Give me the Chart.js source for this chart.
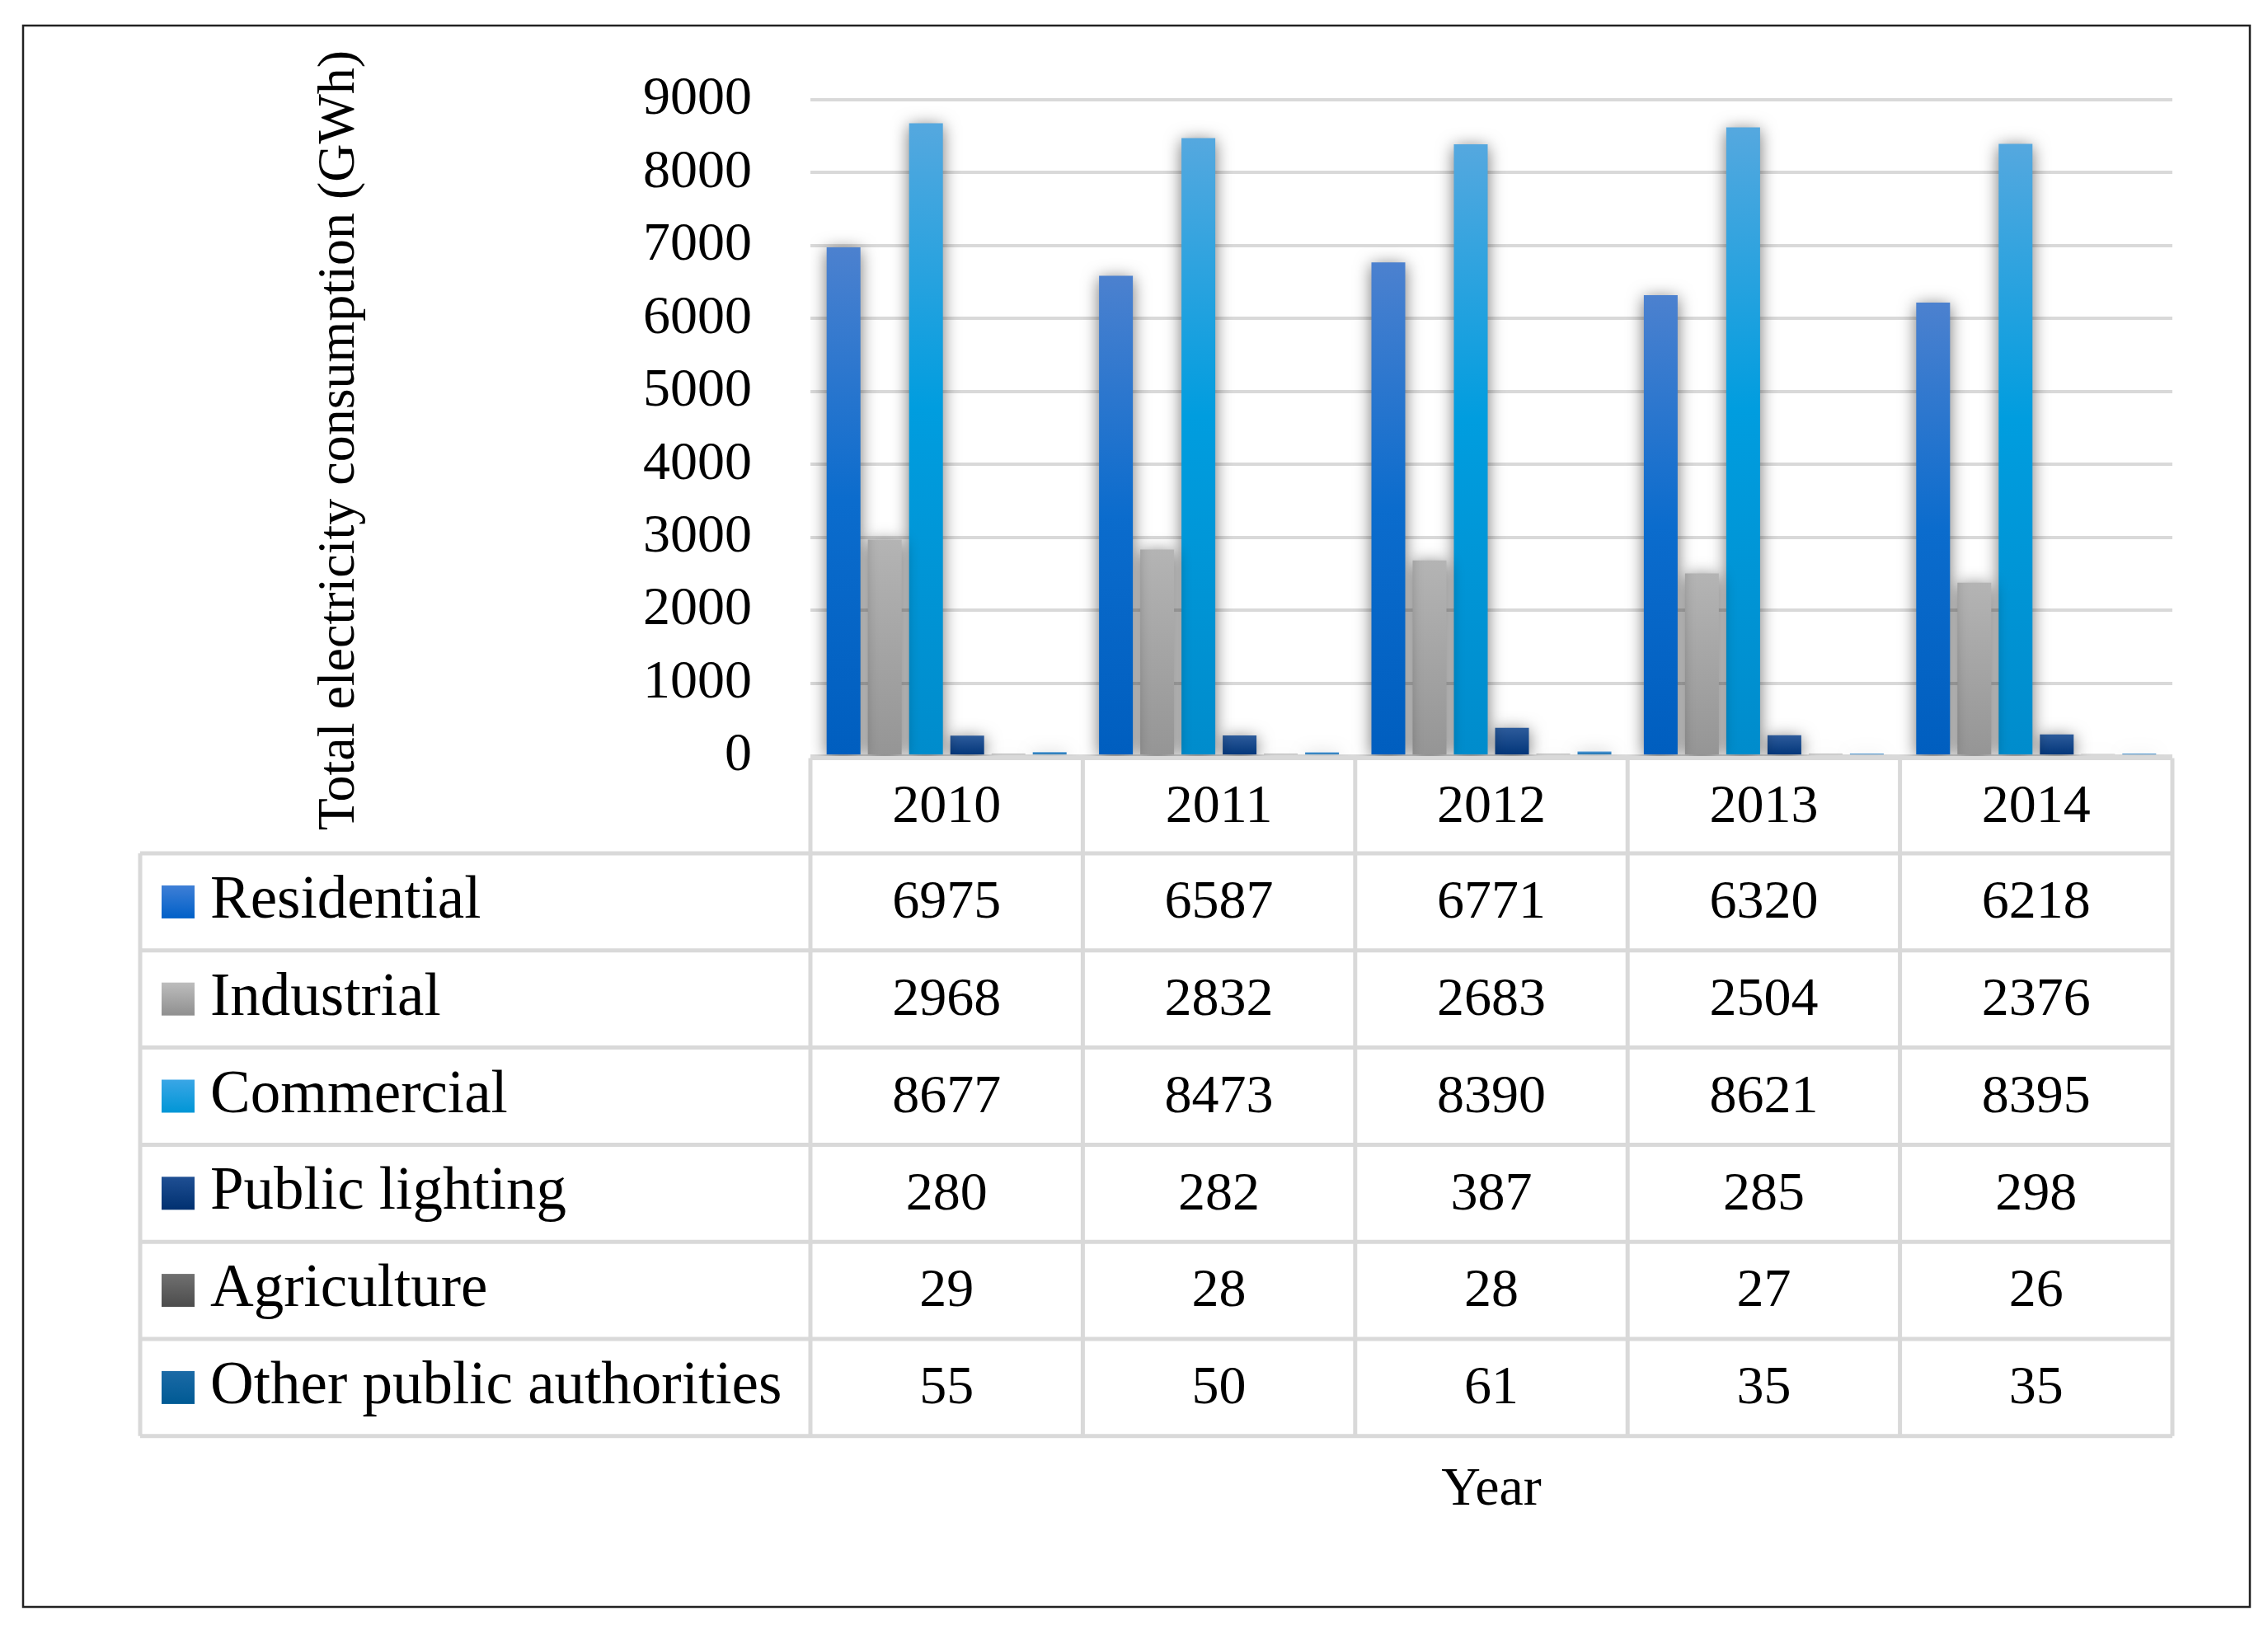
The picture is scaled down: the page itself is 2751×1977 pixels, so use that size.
<!DOCTYPE html>
<html>
<head>
<meta charset="utf-8">
<title>Total electricity consumption</title>
<script src="https://cdn.jsdelivr.net/npm/chart.js@4.4.1/dist/chart.umd.min.js"></script>
<style>
  html, body { margin: 0; padding: 0; background: #fff; overflow: hidden; }
  #wrap { position: relative; width: 2751px; height: 1977px; }
</style>
</head>
<body>
<div id="wrap"><canvas id="chart"></canvas></div>
<script>
/* ================= DATA ================= */
const years = ["2010", "2011", "2012", "2013", "2014"];
const seriesNames = ["Residential", "Industrial", "Commercial", "Public lighting", "Agriculture", "Other public authorities"];
const residential = [6975, 6587, 6771, 6320, 6218];
const industrial = [2968, 2832, 2683, 2504, 2376];
const commercial = [8677, 8473, 8390, 8621, 8395];
const publicLighting = [280, 282, 387, 285, 298];
const agriculture = [29, 28, 28, 27, 26];
const otherAuthorities = [55, 50, 61, 35, 35];
const yTicks = [0, 1000, 2000, 3000, 4000, 5000, 6000, 7000, 8000, 9000];

/* ================= STYLE ================= */
const FONT = "'Liberation Serif', 'Times New Roman', serif";
const LINE = "#d9d9d9";

// gradient stops, top of bar -> bottom of bar
const fills = [
  [[0, "#4c81cf"], [0.5, "#0b6ccd"], [1, "#005ebf"]],
  [[0, "#b4b4b4"], [1, "#959595"]],
  [[0, "#55a8df"], [0.45, "#009ddf"], [1, "#008ccc"]],
  [[0, "#2d5b9b"], [1, "#003478"]],
  [[0, "#777777"], [1, "#4a4a4a"]],
  [[0, "#4f98d6"], [1, "#005a94"]]
];
const legendFills = [
  [[0, "#3f7fd6"], [1, "#0060c8"]],
  [[0, "#bdbdbd"], [1, "#8f8f8f"]],
  [[0, "#3aa6e6"], [1, "#0096d6"]],
  [[0, "#1f4f93"], [1, "#003070"]],
  [[0, "#707070"], [1, "#4c4c4c"]],
  [[0, "#1b6aa6"], [1, "#005a94"]]
];

function makeGradient(ctx, stops, top, bottom) {
  const g = ctx.createLinearGradient(0, top, 0, bottom);
  stops.forEach(s => g.addColorStop(s[0], s[1]));
  return g;
}

function barFill(index) {
  return function (c) {
    const chart = c.chart;
    const y = chart.scales.y;
    if (!chart.chartArea || !y || c.raw == null) return fills[index][0][1];
    const top = y.getPixelForValue(c.raw);
    const base = y.getPixelForValue(0);
    if (base - top < 1) return fills[index][0][1];
    return makeGradient(chart.ctx, fills[index], top, base);
  };
}

/* ================= PLUGINS ================= */
const barShadow = {
  id: "barShadow",
  beforeDatasetsDraw(chart) {
    const ctx = chart.ctx;
    ctx.save();
    ctx.shadowColor = "rgba(0,0,0,0.55)";
    ctx.shadowBlur = 20;
    ctx.shadowOffsetX = 0;
    ctx.shadowOffsetY = 3;
  },
  afterDatasetsDraw(chart) {
    chart.ctx.restore();
  }
};

const dataTable = {
  id: "dataTable",
  afterDraw(chart) {
    const { ctx, chartArea } = chart;
    const x = chart.scales.x;
    const n = chart.data.labels.length;
    const cw = (chartArea.right - chartArea.left) / n;
    const headTop = chartArea.bottom + 2.5;
    const rowsTop = headTop + 115.5;
    const rowH = 117.8;
    const tableLeft = 170;
    const sets = chart.data.datasets;
    const bottom = rowsTop + sets.length * rowH;

    ctx.save();
    ctx.strokeStyle = LINE;
    ctx.lineWidth = 5;
    ctx.beginPath();
    // header top
    ctx.moveTo(chartArea.left, headTop);
    ctx.lineTo(chartArea.right, headTop);
    // horizontal row lines
    for (let r = 0; r <= sets.length; r++) {
      const yy = rowsTop + r * rowH;
      ctx.moveTo(tableLeft, yy);
      ctx.lineTo(chartArea.right, yy);
    }
    // left border of label column
    ctx.moveTo(tableLeft, rowsTop);
    ctx.lineTo(tableLeft, bottom);
    // column lines
    for (let i = 0; i <= n; i++) {
      const xx = i < n ? x.getPixelForValue(i) - cw / 2 : x.getPixelForValue(n - 1) + cw / 2;
      ctx.moveTo(xx, headTop);
      ctx.lineTo(xx, bottom);
    }
    ctx.stroke();

    ctx.fillStyle = "#000";
    ctx.textBaseline = "middle";

    // header years
    ctx.font = "66px " + FONT;
    ctx.textAlign = "center";
    chart.data.labels.forEach((lab, i) => {
      ctx.fillText(lab, x.getPixelForValue(i), (headTop + rowsTop) / 2 + 2);
    });

    // rows
    sets.forEach((ds, r) => {
      const cy = rowsTop + r * rowH + rowH / 2;
      // legend key
      ctx.fillStyle = makeGradient(ctx, legendFills[r], cy - 20, cy + 20);
      ctx.fillRect(196, cy - 20, 40, 40);
      ctx.fillStyle = "#000";
      ctx.font = "73px " + FONT;
      ctx.textAlign = "left";
      ctx.fillText(ds.label, 255, cy);
      ctx.font = "66px " + FONT;
      ctx.textAlign = "center";
      ds.data.forEach((v, i) => {
        ctx.fillText(String(v), x.getPixelForValue(i), cy + 2);
      });
    });

    // x axis title
    ctx.font = "66px " + FONT;
    ctx.textAlign = "center";
    ctx.fillText("Year", (chartArea.left + chartArea.right) / 2, bottom + 66);

    // y axis title
    ctx.save();
    ctx.translate(412, (chartArea.top + chartArea.bottom) / 2 + 15);
    ctx.rotate(-Math.PI / 2);
    ctx.font = "64px " + FONT;
    ctx.textAlign = "center";
    ctx.fillText("Total electricity consumption (GWh)", 0, 0);
    ctx.restore();

    // outer frame
    ctx.strokeStyle = "#222";
    ctx.lineWidth = 2.5;
    ctx.strokeRect(28, 31, 2701, 1918);
    ctx.restore();
  }
};

/* ================= CHART ================= */
const seriesValues = [residential, industrial, commercial, publicLighting, agriculture, otherAuthorities];

new Chart(document.getElementById("chart"), {
  type: "bar",
  data: {
    labels: years,
    datasets: seriesValues.map((vals, i) => ({
      label: seriesNames[i],
      data: vals,
      backgroundColor: barFill(i),
      borderWidth: 0,
      categoryPercentage: 0.908,
      barPercentage: 0.82
    }))
  },
  options: {
    responsive: true,
    maintainAspectRatio: false,
    animation: false,
    devicePixelRatio: 1,
    layout: { padding: { left: 0, right: 116, top: 121, bottom: 1060 } },
    plugins: {
      legend: { display: false },
      tooltip: { enabled: false }
    },
    scales: {
      x: { display: false },
      y: {
        min: 0,
        max: 9000,
        afterBuildTicks: s => { s.ticks = yTicks.map(v => ({ value: v })); },
        afterFit: s => { s.width = 983; },
        grid: { color: LINE, lineWidth: 4, drawTicks: false },
        border: { display: false },
        ticks: {
          padding: 71,
          color: "#000",
          font: { family: FONT, size: 66 },
          callback: v => String(v)
        }
      }
    }
  },
  plugins: [barShadow, dataTable]
});
</script>
</body>
</html>
